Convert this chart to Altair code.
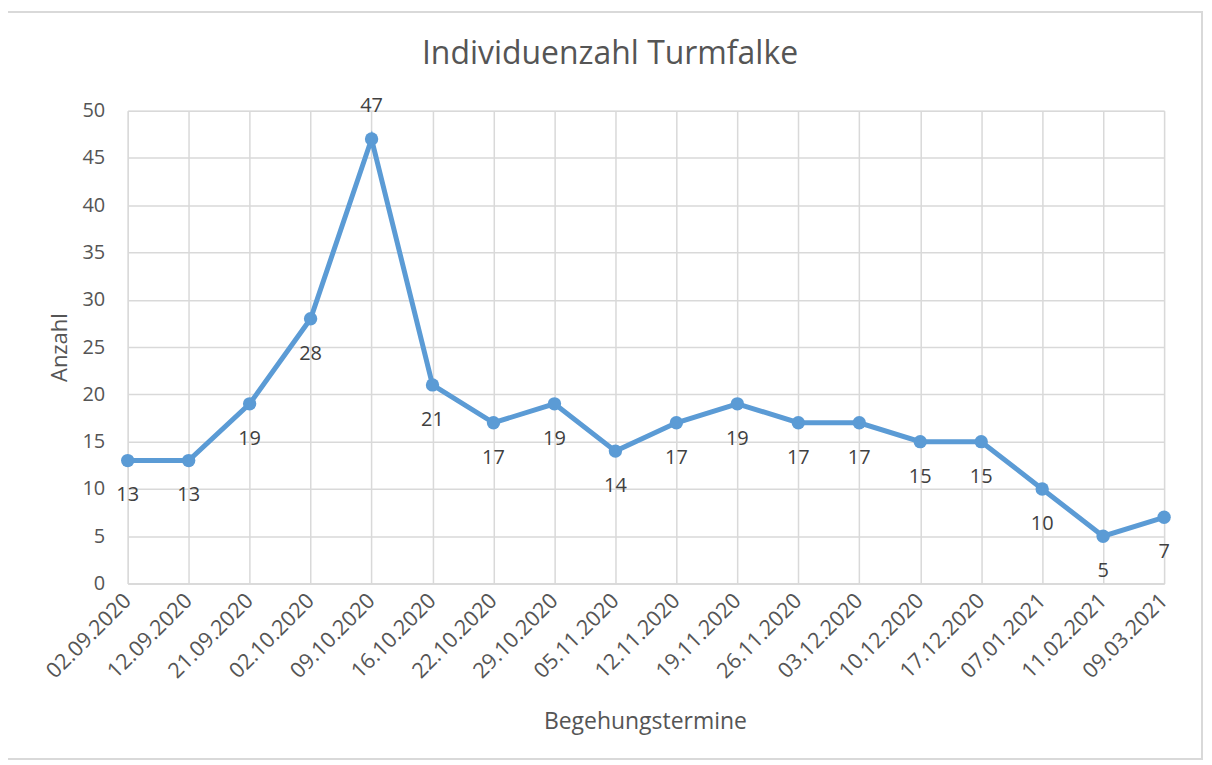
import altair as alt
import pandas as pd

dates = ["02.09.2020", "12.09.2020", "21.09.2020", "02.10.2020", "09.10.2020",
         "16.10.2020", "22.10.2020", "29.10.2020", "05.11.2020", "12.11.2020",
         "19.11.2020", "26.11.2020", "03.12.2020", "10.12.2020", "17.12.2020",
         "07.01.2021", "11.02.2021", "09.03.2021"]
counts = [13, 13, 19, 28, 47, 21, 17, 19, 14, 17, 19, 17, 17, 15, 15, 10, 5, 7]

df = pd.DataFrame({"Begehungstermine": dates, "Anzahl": counts})

FONT = "Open Sans"
W, H = 1039, 474
grey = "#555555"

x = alt.X("Begehungstermine:N", sort=dates,
          scale=alt.Scale(type="point", padding=0),
          axis=alt.Axis(title="Begehungstermine", labelAngle=-45, labelAlign="right",
                        labelBaseline="middle", labelPadding=14, tickSize=0,
                        labelFontSize=21.5, labelColor=grey, labelFont=FONT,
                        titleFontSize=23, titleColor=grey, titleFont=FONT, titleFontWeight="normal",
                        titleX=W / 2 - 1, titleY=138, titleBaseline="middle", titleAnchor="middle",
                        grid=True, gridColor="#D9D9D9", gridWidth=1.5,
                        domain=True, domainColor="#D9D9D9", domainWidth=1.5))
y = alt.Y("Anzahl:Q", scale=alt.Scale(domain=[0, 50]),
          axis=alt.Axis(title="Anzahl", values=list(range(0, 51, 5)), tickSize=0,
                        labelPadding=23, labelFontSize=20, labelColor=grey, labelFont=FONT,
                        titleFontSize=22, titleColor=grey, titleFont=FONT, titleFontWeight="normal",
                        titleX=-68, titleY=H / 2, titleBaseline="middle", titleAnchor="middle",
                        grid=True, gridColor="#D9D9D9", gridWidth=1.5, domain=False))

base = alt.Chart(df)

border = base.mark_rect(fill=None, stroke="#D9D9D9", strokeWidth=1.5, clip=False).encode(
    x=alt.value(-121), x2=alt.value(W + 38), y=alt.value(-99), y2=alt.value(H + 176))

line = base.mark_line(color="#5B9BD5", strokeWidth=5, point=alt.OverlayMarkDef(
    color="#5B9BD5", size=180, filled=True, opacity=1)).encode(x=x, y=y)

labels_below = base.transform_filter("datum.Anzahl < 47").mark_text(
    dy=35, fontSize=20, color="#404040", font=FONT, baseline="middle").encode(
    x=alt.X("Begehungstermine:N", sort=dates), y="Anzahl:Q", text="Anzahl:Q")
labels_above = base.transform_filter("datum.Anzahl >= 47").mark_text(
    dy=-33, fontSize=20, color="#404040", font=FONT, baseline="middle").encode(
    x=alt.X("Begehungstermine:N", sort=dates), y="Anzahl:Q", text="Anzahl:Q")

chart = alt.layer(border, line, labels_below, labels_above).properties(
    width=W, height=H,
    title=alt.TitleParams("Individuenzahl Turmfalke", fontSize=32, color=grey, font=FONT,
                          fontWeight="normal", anchor="middle", dx=-36, offset=-60),
    autosize=alt.AutoSizeParams(type="none"),
    padding={"left": 120, "top": 102, "right": 40, "bottom": 180},
).configure_view(stroke=None).configure(background="white")

chart.save("out.html", embed_options={"renderer": "svg", "actions": False})
